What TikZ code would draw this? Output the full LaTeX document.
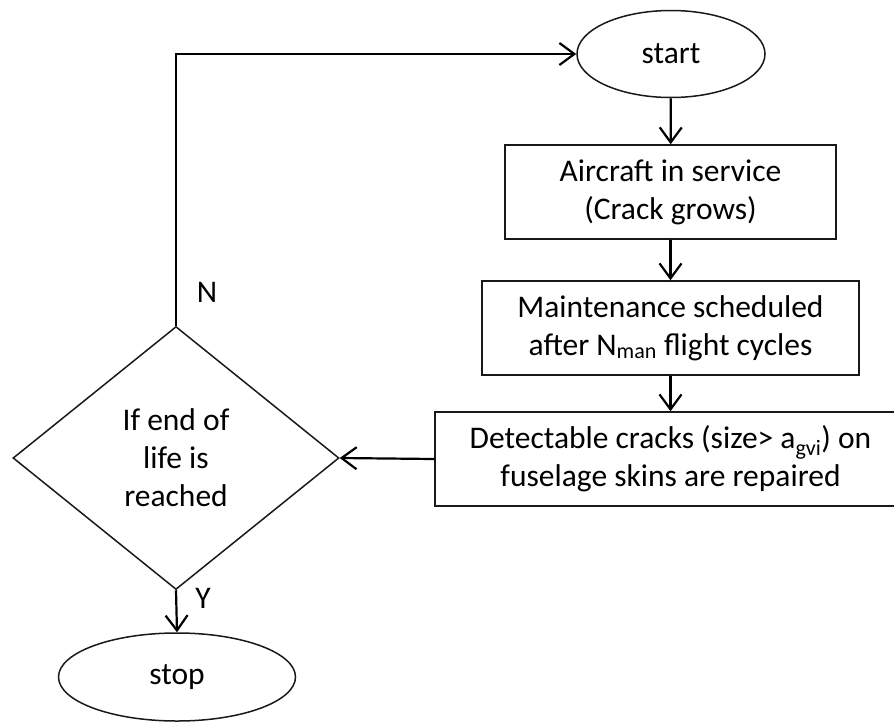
\documentclass[tikz,border=0pt]{standalone}
\usepackage{fontspec}
\setmainfont{Carlito}
\usetikzlibrary{shapes.geometric,arrows.meta}
\begin{document}
\begin{tikzpicture}[x=1pt,y=-1pt,
  txt/.style={font=\fontsize{31.5}{38}\selectfont, align=center, inner sep=0pt},
  shp/.style={txt, draw=black!90, line width=1.5pt},
  box/.style={shp, rectangle, minimum height=94pt},
  oval/.style={shp, ellipse},
  decision/.style={shp, diamond, minimum width=326pt, minimum height=263pt},
  arr/.style={draw=black, line width=2.2pt, -{Straight Barb[length=15pt,width=22pt,line width=2.2pt]}},
  lbl/.style={font=\fontsize{31.5}{36}\selectfont, inner sep=0pt}]
\useasboundingbox (0,0) rectangle (894,723);
\clip (0,0) rectangle (894,723);

\node[oval, minimum width=188pt, minimum height=87pt] (start) at (671,54) {start};
\node[box, minimum width=331pt] (box1) at (670.5,192) {Aircraft in service\\(Crack grows)};
\node[box, minimum width=377pt] (box2) at (670.5,328) {Maintenance scheduled\\after N\textsubscript{man} flight cycles};
\node[box, minimum width=471pt] (box3) at (670.5,459) {Detectable cracks (size> a\textsubscript{gvi}) on\\fuselage skins are repaired};
\node[decision] (dia) at (176,458) {If end of\\life is\\reached};
\node[oval, minimum width=237pt, minimum height=88pt] (stop) at (177,677) {stop};

\draw[arr] (start) -- (box1);
\draw[arr] (box1) -- (box2);
\draw[arr] (box2) -- (box3);
\draw[arr] (box3.west) -- (dia.east);
\draw[arr] (dia.south) -- (stop.north);
\draw[arr] (dia.north) |- (start.west);

\node[lbl] (nlab) at (207,292) {N};
\node[lbl] (ylab) at (203,598) {Y};
\end{tikzpicture}
\end{document}
